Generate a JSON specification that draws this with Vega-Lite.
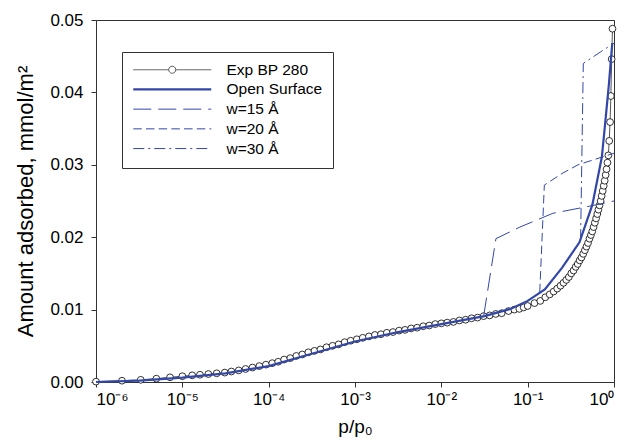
{
  "$schema": "https://vega.github.io/schema/vega-lite/v6.json",
  "width": 518,
  "height": 362,
  "autosize": "none",
  "padding": {"left": 96, "top": 20, "right": 16, "bottom": 62},
  "background": "white",
  "config": {
    "view": {"stroke": "#333333", "strokeWidth": 1},
    "font": "Liberation Sans",
    "axis": {
      "grid": false,
      "domainColor": "#333333",
      "tickColor": "#333333",
      "labelColor": "black",
      "titleColor": "black",
      "labelFont": "Liberation Sans",
      "titleFont": "Liberation Sans",
      "titleFontWeight": "normal",
      "tickSize": 5
    }
  },
  "datasets": {
    "exp": [
      {"series": "Exp BP 280", "p": 1e-6, "v": 0.00005},
      {"series": "Exp BP 280", "p": 2e-6, "v": 0.00018},
      {"series": "Exp BP 280", "p": 3.3e-6, "v": 0.0003},
      {"series": "Exp BP 280", "p": 5e-6, "v": 0.00046},
      {"series": "Exp BP 280", "p": 7.2e-6, "v": 0.00065},
      {"series": "Exp BP 280", "p": 1e-5, "v": 0.0008},
      {"series": "Exp BP 280", "p": 1.3e-5, "v": 0.00092},
      {"series": "Exp BP 280", "p": 1.6e-5, "v": 0.001},
      {"series": "Exp BP 280", "p": 2e-5, "v": 0.0011},
      {"series": "Exp BP 280", "p": 2.5e-5, "v": 0.0012},
      {"series": "Exp BP 280", "p": 3.1e-5, "v": 0.0013},
      {"series": "Exp BP 280", "p": 3.7e-5, "v": 0.00145},
      {"series": "Exp BP 280", "p": 4.5e-5, "v": 0.0016},
      {"series": "Exp BP 280", "p": 5.4e-5, "v": 0.0018},
      {"series": "Exp BP 280", "p": 6.5e-5, "v": 0.002},
      {"series": "Exp BP 280", "p": 7.8e-5, "v": 0.0022},
      {"series": "Exp BP 280", "p": 9.3e-5, "v": 0.0024},
      {"series": "Exp BP 280", "p": 1.1e-4, "v": 0.0026},
      {"series": "Exp BP 280", "p": 1.29e-4, "v": 0.0028},
      {"series": "Exp BP 280", "p": 1.51e-4, "v": 0.0031},
      {"series": "Exp BP 280", "p": 1.78e-4, "v": 0.0033},
      {"series": "Exp BP 280", "p": 2.09e-4, "v": 0.0036},
      {"series": "Exp BP 280", "p": 2.45e-4, "v": 0.0038},
      {"series": "Exp BP 280", "p": 2.88e-4, "v": 0.0041},
      {"series": "Exp BP 280", "p": 3.39e-4, "v": 0.0043},
      {"series": "Exp BP 280", "p": 3.98e-4, "v": 0.0045},
      {"series": "Exp BP 280", "p": 4.68e-4, "v": 0.0048},
      {"series": "Exp BP 280", "p": 5.5e-4, "v": 0.005},
      {"series": "Exp BP 280", "p": 6.46e-4, "v": 0.0052},
      {"series": "Exp BP 280", "p": 7.59e-4, "v": 0.0055},
      {"series": "Exp BP 280", "p": 8.91e-4, "v": 0.0057},
      {"series": "Exp BP 280", "p": 1.05e-3, "v": 0.0059},
      {"series": "Exp BP 280", "p": 1.23e-3, "v": 0.0061},
      {"series": "Exp BP 280", "p": 1.45e-3, "v": 0.0063},
      {"series": "Exp BP 280", "p": 1.7e-3, "v": 0.0065},
      {"series": "Exp BP 280", "p": 2e-3, "v": 0.0066},
      {"series": "Exp BP 280", "p": 2.34e-3, "v": 0.0068},
      {"series": "Exp BP 280", "p": 2.75e-3, "v": 0.0069},
      {"series": "Exp BP 280", "p": 3.24e-3, "v": 0.0071},
      {"series": "Exp BP 280", "p": 3.8e-3, "v": 0.0072},
      {"series": "Exp BP 280", "p": 4.47e-3, "v": 0.0074},
      {"series": "Exp BP 280", "p": 5.25e-3, "v": 0.0075},
      {"series": "Exp BP 280", "p": 6.17e-3, "v": 0.0077},
      {"series": "Exp BP 280", "p": 7.24e-3, "v": 0.0078},
      {"series": "Exp BP 280", "p": 8.51e-3, "v": 0.008},
      {"series": "Exp BP 280", "p": 0.01, "v": 0.0081},
      {"series": "Exp BP 280", "p": 0.0117, "v": 0.0082},
      {"series": "Exp BP 280", "p": 0.0138, "v": 0.0083},
      {"series": "Exp BP 280", "p": 0.0162, "v": 0.0085},
      {"series": "Exp BP 280", "p": 0.0191, "v": 0.0086},
      {"series": "Exp BP 280", "p": 0.0224, "v": 0.0088},
      {"series": "Exp BP 280", "p": 0.0263, "v": 0.0089},
      {"series": "Exp BP 280", "p": 0.0309, "v": 0.0091},
      {"series": "Exp BP 280", "p": 0.0363, "v": 0.0092},
      {"series": "Exp BP 280", "p": 0.0427, "v": 0.0094},
      {"series": "Exp BP 280", "p": 0.05, "v": 0.0095},
      {"series": "Exp BP 280", "p": 0.06, "v": 0.0098},
      {"series": "Exp BP 280", "p": 0.07, "v": 0.01},
      {"series": "Exp BP 280", "p": 0.08, "v": 0.0101},
      {"series": "Exp BP 280", "p": 0.09, "v": 0.0103},
      {"series": "Exp BP 280", "p": 0.1, "v": 0.0105},
      {"series": "Exp BP 280", "p": 0.12, "v": 0.0109},
      {"series": "Exp BP 280", "p": 0.14, "v": 0.0112},
      {"series": "Exp BP 280", "p": 0.16, "v": 0.0117},
      {"series": "Exp BP 280", "p": 0.18, "v": 0.0121},
      {"series": "Exp BP 280", "p": 0.2, "v": 0.0125},
      {"series": "Exp BP 280", "p": 0.22, "v": 0.0129},
      {"series": "Exp BP 280", "p": 0.24, "v": 0.0133},
      {"series": "Exp BP 280", "p": 0.26, "v": 0.0137},
      {"series": "Exp BP 280", "p": 0.28, "v": 0.0141},
      {"series": "Exp BP 280", "p": 0.3, "v": 0.0145},
      {"series": "Exp BP 280", "p": 0.32, "v": 0.015},
      {"series": "Exp BP 280", "p": 0.34, "v": 0.0154},
      {"series": "Exp BP 280", "p": 0.36, "v": 0.0159},
      {"series": "Exp BP 280", "p": 0.38, "v": 0.0163},
      {"series": "Exp BP 280", "p": 0.4, "v": 0.0168},
      {"series": "Exp BP 280", "p": 0.42, "v": 0.0172},
      {"series": "Exp BP 280", "p": 0.44, "v": 0.0177},
      {"series": "Exp BP 280", "p": 0.46, "v": 0.0182},
      {"series": "Exp BP 280", "p": 0.48, "v": 0.0187},
      {"series": "Exp BP 280", "p": 0.5, "v": 0.0192},
      {"series": "Exp BP 280", "p": 0.52, "v": 0.0198},
      {"series": "Exp BP 280", "p": 0.54, "v": 0.0203},
      {"series": "Exp BP 280", "p": 0.56, "v": 0.0208},
      {"series": "Exp BP 280", "p": 0.58, "v": 0.0214},
      {"series": "Exp BP 280", "p": 0.6, "v": 0.022},
      {"series": "Exp BP 280", "p": 0.62, "v": 0.0226},
      {"series": "Exp BP 280", "p": 0.64, "v": 0.0232},
      {"series": "Exp BP 280", "p": 0.66, "v": 0.0238},
      {"series": "Exp BP 280", "p": 0.68, "v": 0.0244},
      {"series": "Exp BP 280", "p": 0.7, "v": 0.025},
      {"series": "Exp BP 280", "p": 0.72, "v": 0.0257},
      {"series": "Exp BP 280", "p": 0.74, "v": 0.0264},
      {"series": "Exp BP 280", "p": 0.76, "v": 0.0271},
      {"series": "Exp BP 280", "p": 0.78, "v": 0.0278},
      {"series": "Exp BP 280", "p": 0.8, "v": 0.0286},
      {"series": "Exp BP 280", "p": 0.82, "v": 0.0294},
      {"series": "Exp BP 280", "p": 0.84, "v": 0.0303},
      {"series": "Exp BP 280", "p": 0.86, "v": 0.0313},
      {"series": "Exp BP 280", "p": 0.88, "v": 0.0333},
      {"series": "Exp BP 280", "p": 0.9, "v": 0.0359},
      {"series": "Exp BP 280", "p": 0.92, "v": 0.0395},
      {"series": "Exp BP 280", "p": 0.94, "v": 0.0446},
      {"series": "Exp BP 280", "p": 0.96, "v": 0.0488}
    ],
    "open": [
      {"series": "Open Surface", "p": 1e-6, "v": 0.0},
      {"series": "Open Surface", "p": 3.16e-6, "v": 0.0002},
      {"series": "Open Surface", "p": 1e-5, "v": 0.0006},
      {"series": "Open Surface", "p": 3.16e-5, "v": 0.0012},
      {"series": "Open Surface", "p": 1e-4, "v": 0.0022},
      {"series": "Open Surface", "p": 3.16e-4, "v": 0.0039},
      {"series": "Open Surface", "p": 1e-3, "v": 0.0056},
      {"series": "Open Surface", "p": 3.16e-3, "v": 0.0069},
      {"series": "Open Surface", "p": 0.01, "v": 0.008},
      {"series": "Open Surface", "p": 0.0316, "v": 0.0091},
      {"series": "Open Surface", "p": 0.0631, "v": 0.0101},
      {"series": "Open Surface", "p": 0.1, "v": 0.0112},
      {"series": "Open Surface", "p": 0.158, "v": 0.0128},
      {"series": "Open Surface", "p": 0.251, "v": 0.0158},
      {"series": "Open Surface", "p": 0.398, "v": 0.0193},
      {"series": "Open Surface", "p": 0.562, "v": 0.0245},
      {"series": "Open Surface", "p": 0.724, "v": 0.0311},
      {"series": "Open Surface", "p": 0.794, "v": 0.036},
      {"series": "Open Surface", "p": 0.871, "v": 0.041},
      {"series": "Open Surface", "p": 0.955, "v": 0.0468}
    ],
    "pores": [
      {"series": "w=15 Å", "p": 0.031, "v": 0.0092},
      {"series": "w=15 Å", "p": 0.0429, "v": 0.0198},
      {"series": "w=15 Å", "p": 0.0813, "v": 0.0214},
      {"series": "w=15 Å", "p": 0.196, "v": 0.0233},
      {"series": "w=15 Å", "p": 0.527, "v": 0.0243},
      {"series": "w=15 Å", "p": 1.0, "v": 0.025},
      {"series": "w=20 Å", "p": 0.138, "v": 0.0124},
      {"series": "w=20 Å", "p": 0.156, "v": 0.0272},
      {"series": "w=20 Å", "p": 0.25, "v": 0.0288},
      {"series": "w=20 Å", "p": 0.383, "v": 0.03},
      {"series": "w=20 Å", "p": 1.0, "v": 0.0316},
      {"series": "w=30 Å", "p": 0.41, "v": 0.0196},
      {"series": "w=30 Å", "p": 0.441, "v": 0.044},
      {"series": "w=30 Å", "p": 0.7, "v": 0.0456},
      {"series": "w=30 Å", "p": 1.0, "v": 0.0468}
    ]
  },
  "layer": [
    {
      "data": {"name": "exp"},
      "mark": {"type": "line", "strokeWidth": 1},
      "encoding": {
        "x": {
          "field": "p",
          "type": "quantitative",
          "scale": {"type": "log", "domain": [1e-6, 1], "nice": false},
          "axis": {
            "values": [1e-6, 1e-5, 1e-4, 1e-3, 1e-2, 1e-1, 1],
            "labelExpr": "'10' + ['⁻⁶','⁻⁵','⁻⁴','⁻³','⁻²','⁻¹','⁰'][round(log(datum.value)/LN10)+6]",
            "labelFontSize": 17,
            "labelPadding": 4,
            "title": "p/p₀",
            "titleFontSize": 19,
            "titlePadding": 10
          }
        },
        "y": {
          "field": "v",
          "type": "quantitative",
          "scale": {"domain": [0, 0.05], "nice": false},
          "axis": {
            "values": [0, 0.01, 0.02, 0.03, 0.04, 0.05],
            "format": ".2f",
            "labelFontSize": 17,
            "labelPadding": 8,
            "title": "Amount adsorbed, mmol/m²",
            "titleFontSize": 22,
            "titlePadding": 12
          }
        },
        "color": {
          "field": "series",
          "type": "nominal",
          "scale": {
            "domain": ["Exp BP 280", "Open Surface", "w=15 Å", "w=20 Å", "w=30 Å"],
            "range": ["#555555", "#3347a8", "#3347a8", "#3347a8", "#3347a8"]
          },
          "legend": {
            "title": null,
            "orient": "none",
            "legendX": 26,
            "legendY": 32,
            "direction": "vertical",
            "strokeColor": "#333333",
            "padding": 10,
            "symbolType": "stroke",
            "symbolSize": 6084,
            "symbolStrokeWidth": 1,
            "symbolOffset": 32.5,
            "labelFont": "Liberation Sans",
            "labelFontSize": 15.5,
            "labelColor": "black",
            "labelOffset": 46.5,
            "labelLimit": 300,
            "rowPadding": 2.7,
            "encode": {
              "symbols": {
                "update": {
                  "shape": {"signal": "datum.value === 'Exp BP 280' ? 'M-1,0L-0.09,0M0.09,0L1,0M-0.09,0A0.09,0.09,0,1,1,0.09,0A0.09,0.09,0,1,1,-0.09,0' : 'stroke'"},
                  "strokeDash": {"signal": "datum.value === 'w=15 Å' ? [18,7] : datum.value === 'w=20 Å' ? [8.5,4.2] : datum.value === 'w=30 Å' ? [11,4,2,4] : [1,0]"},
                  "strokeWidth": {"signal": "datum.value === 'Open Surface' ? 2.2 : 1"},
                  "fill": {"signal": "datum.value === 'Exp BP 280' ? 'white' : 'transparent'"},
                  "opacity": {"value": 1}
                }
              }
            }
          }
        }
      }
    },
    {
      "data": {"name": "exp"},
      "mark": {"type": "point", "shape": "circle", "filled": true, "fill": "white", "stroke": "black", "strokeWidth": 0.8, "size": 46, "opacity": 1},
      "encoding": {
        "x": {"field": "p", "type": "quantitative"},
        "y": {"field": "v", "type": "quantitative"}
      }
    },
    {
      "data": {"name": "pores"},
      "mark": {"type": "line", "strokeWidth": 1},
      "encoding": {
        "x": {"field": "p", "type": "quantitative"},
        "y": {"field": "v", "type": "quantitative"},
        "color": {"field": "series", "type": "nominal"},
        "strokeDash": {
          "field": "series",
          "type": "nominal",
          "scale": {"domain": ["w=15 Å", "w=20 Å", "w=30 Å"], "range": [[18, 7], [8.5, 4.2], [11, 4, 2, 4]]},
          "legend": null
        }
      }
    },
    {
      "data": {"name": "open"},
      "mark": {"type": "line", "strokeWidth": 2.2},
      "encoding": {
        "x": {"field": "p", "type": "quantitative"},
        "y": {"field": "v", "type": "quantitative"},
        "color": {"field": "series", "type": "nominal"}
      }
    }
  ]
}
